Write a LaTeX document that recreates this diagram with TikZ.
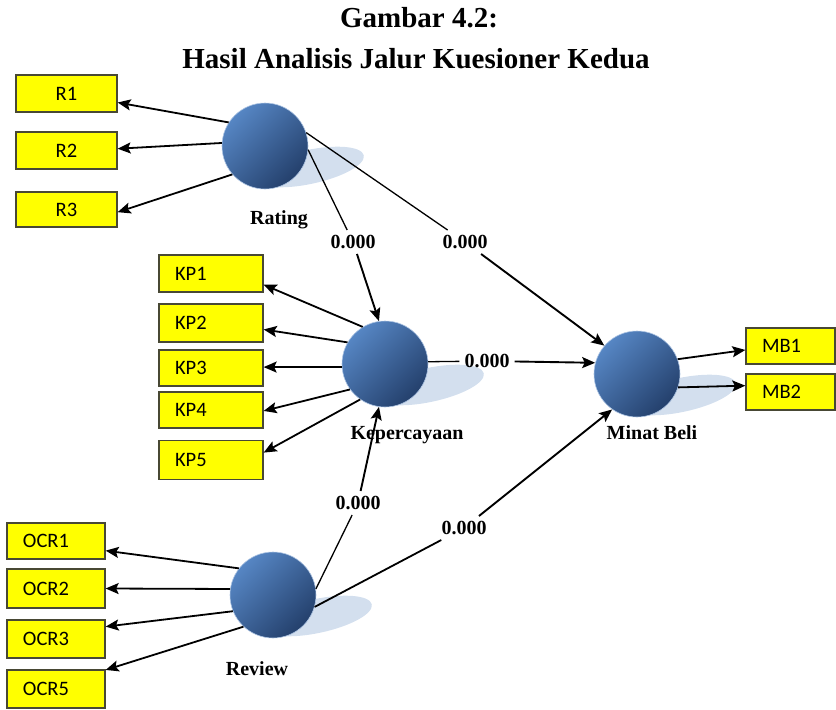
\documentclass[tikz,border=0pt]{standalone}
\usepackage{fontspec}
\setmainfont{Liberation Serif}
\newfontfamily\boxfont{Carlito}
\usetikzlibrary{arrows.meta,backgrounds}

\definecolor{boxyellow}{RGB}{255,255,0}
\definecolor{boxedge}{RGB}{72,72,52}
\definecolor{balllight}{RGB}{86,134,196}
\definecolor{balldark}{RGB}{36,64,108}
\definecolor{ballrim}{RGB}{175,198,228}
\definecolor{shadowblue}{RGB}{211,223,238}

\begin{document}
\begin{tikzpicture}[x=1pt,y=-1pt,
  indbox/.style={draw=boxedge, line width=1.3pt, fill=boxyellow,
    inner xsep=16pt, inner ysep=0pt, align=left,
    font=\boxfont\fontsize{20.5}{21}\selectfont},
  latent/.style={circle, minimum size=86pt, inner sep=0pt,
    top color=balllight, bottom color=balldark, shading angle=45,
    draw=ballrim, line width=0.6pt},
  varname/.style={font=\bfseries\fontsize{20}{22}\selectfont, anchor=base},
  pval/.style={font=\bfseries\fontsize{20}{22}\selectfont, inner sep=5pt},
  loadarrow/.style={-{Stealth[length=13pt,width=11pt,inset=2.5pt]}, line width=1.8pt},
  patharrow/.style={-{Stealth[length=13pt,width=11pt,inset=2.5pt]}, line width=1.9pt},
  thinline/.style={line width=1.3pt},
  thickline/.style={line width=1.8pt}]

\useasboundingbox (0,0) rectangle (836,710);

% title
\node[font=\bfseries\fontsize{29}{31}\selectfont, anchor=base] (t1) at (419,27) {Gambar 4.2:};
\node[font=\bfseries\fontsize{29}{31}\selectfont, anchor=base] (t2) at (416,68) {Hasil Analisis Jalur Kuesioner Kedua};

% latent variables
\node[latent] (rating) at (265,146) {};
\node[latent] (kep) at (385,364) {};
\node[latent] (mb) at (637,374) {};
\node[latent] (review) at (273,595) {};

% soft shadows behind the spheres
\begin{scope}[on background layer]
  \foreach \c in {rating,kep,mb,review}{
    \path (\c.center) ++(44,21) coordinate (\c-shadow);
    \begin{scope}[shift={(\c-shadow)}, rotate=12]
      \fill[shadowblue] (0,0) ellipse [x radius=56, y radius=17];
    \end{scope}
  }
\end{scope}

% variable names
\node[varname] (lrating) at (279,224) {Rating};
\node[varname] (lkep) at (407,439) {Kepercayaan};
\node[varname] (lmb) at (652,439) {Minat Beli};
\node[varname] (lreview) at (257,675) {Review};

% indicators
\node[indbox, text width=69pt, align=center, minimum height=37pt] (r1) at (66.5,93.5) {R1};
\node[indbox, text width=69pt, align=center, minimum height=37pt] (r2) at (66.5,150.5) {R2};
\node[indbox, text width=69pt, align=center, minimum height=35pt] (r3) at (66.5,209.5) {R3};

\node[indbox, text width=72pt, minimum height=37pt] (kp1) at (211,273.5) {KP1};
\node[indbox, text width=72pt, minimum height=38pt] (kp2) at (211,323) {KP2};
\node[indbox, text width=72pt, minimum height=36pt] (kp3) at (211,368) {KP3};
\node[indbox, text width=72pt, minimum height=36pt] (kp4) at (211,410) {KP4};
\node[indbox, text width=72pt, minimum height=39pt] (kp5) at (211,460) {KP5};

\node[indbox, text width=66pt, minimum height=36pt] (ocr1) at (56,541) {OCR1};
\node[indbox, text width=66pt, minimum height=39pt] (ocr2) at (56,588.5) {OCR2};
\node[indbox, text width=66pt, minimum height=38pt] (ocr3) at (56,639) {OCR3};
\node[indbox, text width=66pt, minimum height=38pt] (ocr5) at (56,689) {OCR5};

\node[indbox, text width=57pt, minimum height=36pt] (mb1) at (790.5,346) {MB1};
\node[indbox, text width=57pt, minimum height=36pt] (mb2) at (790.5,392) {MB2};

% outer loadings
\draw[loadarrow] (rating.147) -- (r1.-10);
\draw[loadarrow] (rating.176) -- (r2.2);
\draw[loadarrow] (rating.221) -- (r3.-3);

\draw[loadarrow] (kep.121) -- (kp1.-12);
\draw[loadarrow] (kep.150) -- (kp2.-7);
\draw[loadarrow] (kep.184) -- (kp3.1);
\draw[loadarrow] (kep.216) -- (kp4.-1);
\draw[loadarrow] (kep.235) -- (kp5.8);

\draw[loadarrow] (review.142) -- (ocr1.-11);
\draw[loadarrow] (review.172) -- (ocr2.east);
\draw[loadarrow] (review.202) -- (ocr3.14);
\draw[loadarrow] (review.227) -- (ocr5.21);

\draw[loadarrow] (mb.20) -- (mb1.185);
\draw[loadarrow] (mb.-18) -- (mb2.172);

% path coefficients
\node[pval] (p1) at (353,242) {0.000};
\node[pval] (p2) at (465,242) {0.000};
\node[pval] (p3) at (487,361) {0.000};
\node[pval] (p4) at (358,503) {0.000};
\node[pval] (p5) at (464,528) {0.000};

\draw[thinline] (rating.-5) -- (p1);
\draw[patharrow] (p1) -- (kep.98);
\draw[thinline] (rating.18) -- (p2);
\draw[patharrow] (p2) -- (mb.139);
\draw[thinline] (kep.3) -- (p3);
\draw[patharrow] (p3) -- (mb.165);
\draw[thinline] (review.8) -- (p4);
\draw[patharrow] (p4) -- (kep.262);
\draw[thickline] (review.-16) -- (p5);
\draw[patharrow] (p5) -- (mb.235);

\end{tikzpicture}
\end{document}
